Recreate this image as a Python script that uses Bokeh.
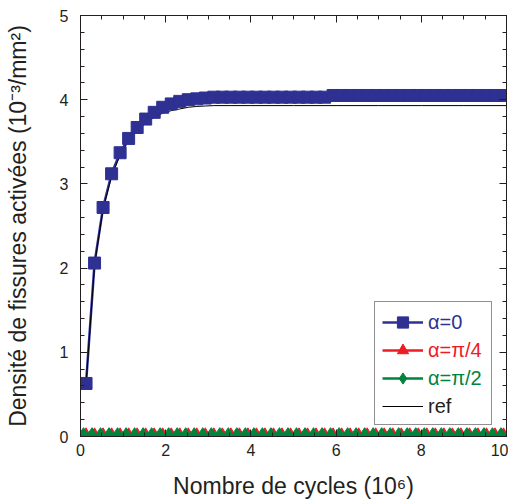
from bokeh.plotting import figure
from bokeh.models import (Legend, LegendItem, LinearAxis, SingleIntervalTicker,
                          Range1d, CustomJSTickFormatter)
from bokeh.embed import file_html
from bokeh.resources import INLINE

# ---- data ----
x_a0 = [0.13, 0.33, 0.53, 0.73, 0.93, 1.13, 1.33, 1.53, 1.73, 1.93,
        2.13, 2.33, 2.53, 2.73, 2.93, 3.13, 3.33, 3.53, 3.73, 3.93,
        4.13, 4.33, 4.53, 4.73, 4.93, 5.13, 5.33, 5.53, 5.73, 5.93,
        6.13, 6.33, 6.53, 6.73, 6.93, 7.13, 7.33, 7.53, 7.73, 7.93,
        8.13, 8.33, 8.53, 8.73, 8.93, 9.13, 9.33, 9.53, 9.73, 9.93]
y_a0 = [0.63, 2.06, 2.72, 3.12, 3.37, 3.54, 3.67, 3.77, 3.85, 3.91,
        3.95, 3.98, 4.00, 4.01, 4.02, 4.03, 4.03, 4.03, 4.03, 4.03,
        4.03, 4.03, 4.03, 4.03, 4.03, 4.03, 4.03, 4.03, 4.03, 4.05,
        4.05, 4.05, 4.05, 4.05, 4.05, 4.05, 4.05, 4.05, 4.05, 4.05,
        4.05, 4.05, 4.05, 4.05, 4.05, 4.05, 4.05, 4.05, 4.05, 4.05]

x_a45 = [0.13, 0.33, 0.53, 0.73, 0.93, 1.13, 1.33, 1.53, 1.73, 1.93,
         2.13, 2.33, 2.53, 2.73, 2.93, 3.13, 3.33, 3.53, 3.73, 3.93,
         4.13, 4.33, 4.53, 4.73, 4.93, 5.13, 5.33, 5.53, 5.73, 5.93,
         6.13, 6.33, 6.53, 6.73, 6.93, 7.13, 7.33, 7.53, 7.73, 7.93,
         8.13, 8.33, 8.53, 8.73, 8.93, 9.13, 9.33, 9.53, 9.73, 9.93]
y_a45 = [0.0, 0.0, 0.0, 0.0, 0.0, 0.0, 0.0, 0.0, 0.0, 0.0,
         0.0, 0.0, 0.0, 0.0, 0.0, 0.0, 0.0, 0.0, 0.0, 0.0,
         0.0, 0.0, 0.0, 0.0, 0.0, 0.0, 0.0, 0.0, 0.0, 0.0,
         0.0, 0.0, 0.0, 0.0, 0.0, 0.0, 0.0, 0.0, 0.0, 0.0,
         0.0, 0.0, 0.0, 0.0, 0.0, 0.0, 0.0, 0.0, 0.0, 0.0]

x_a90 = [0.07, 0.27, 0.47, 0.67, 0.87, 1.07, 1.27, 1.47, 1.67, 1.87,
         2.07, 2.27, 2.47, 2.67, 2.87, 3.07, 3.27, 3.47, 3.67, 3.87,
         4.07, 4.27, 4.47, 4.67, 4.87, 5.07, 5.27, 5.47, 5.67, 5.87,
         6.07, 6.27, 6.47, 6.67, 6.87, 7.07, 7.27, 7.47, 7.67, 7.87,
         8.07, 8.27, 8.47, 8.67, 8.87, 9.07, 9.27, 9.47, 9.67, 9.87]
y_a90 = [0.01, 0.01, 0.01, 0.01, 0.01, 0.01, 0.01, 0.01, 0.01, 0.01,
         0.01, 0.01, 0.01, 0.01, 0.01, 0.01, 0.01, 0.01, 0.01, 0.01,
         0.01, 0.01, 0.01, 0.01, 0.01, 0.01, 0.01, 0.01, 0.01, 0.01,
         0.01, 0.01, 0.01, 0.01, 0.01, 0.01, 0.01, 0.01, 0.01, 0.01,
         0.01, 0.01, 0.01, 0.01, 0.01, 0.01, 0.01, 0.01, 0.01, 0.01]

x_ref = [0.13, 0.33, 0.53, 0.73, 0.93, 1.13, 1.33, 1.53, 1.73, 1.93,
         2.13, 2.33, 2.53, 2.73, 2.93, 3.13, 3.53, 4.0, 5.0, 6.0,
         7.0, 8.0, 9.0, 10.0]
y_ref = [0.62, 2.04, 2.70, 3.09, 3.34, 3.51, 3.63, 3.72, 3.79, 3.84,
         3.87, 3.89, 3.91, 3.92, 3.925, 3.93, 3.93, 3.93, 3.93, 3.93,
         3.93, 3.93, 3.93, 3.93]

labels = ["\u03b1=0", "\u03b1=\u03c0/4", "\u03b1=\u03c0/2", "ref"]
x_ticks_interval = 2
y_ticks_interval = 1

BLUE = "#2E3192"
RED = "#ED1C24"
GREEN = "#00843D"
INK = "#231F20"
FONT = "Liberation Sans"

p = figure(width=508, height=504, x_range=Range1d(0, 10), y_range=Range1d(0, 5),
           output_backend="svg", toolbar_location=None,
           min_border_left=80, min_border_right=2, min_border_top=15,
           min_border_bottom=68)
p.grid.visible = False
p.outline_line_color = INK
p.background_fill_color = "white"
p.border_fill_color = "white"

p.xaxis.ticker = SingleIntervalTicker(interval=x_ticks_interval, num_minor_ticks=4)
p.yaxis.ticker = SingleIntervalTicker(interval=y_ticks_interval, num_minor_ticks=5)

def style_axis(ax):
    ax.axis_line_color = INK
    ax.major_tick_line_color = INK
    ax.minor_tick_line_color = INK
    ax.major_tick_in = 7
    ax.major_tick_out = 0
    ax.minor_tick_in = 4
    ax.minor_tick_out = 0
    ax.major_label_text_font = FONT
    ax.major_label_text_font_size = "16px"
    ax.major_label_text_color = INK
    ax.axis_label_text_font = FONT
    ax.axis_label_text_font_size = "23px"
    ax.axis_label_text_font_style = "normal"
    ax.axis_label_text_color = INK

for ax in p.xaxis + p.yaxis:
    style_axis(ax)

p.xaxis.axis_label = "Nombre de cycles (10\u2076)"
p.yaxis.axis_label = "Densit\u00e9 de fissures activ\u00e9es (10\u207b\u00b3/mm\u00b2)"
p.xaxis.major_label_standoff = 7
p.xaxis.axis_label_standoff = 14
p.yaxis.major_label_standoff = 12
p.yaxis.axis_label_standoff = 26

blank = CustomJSTickFormatter(code="return ''")
top_ax = LinearAxis(ticker=SingleIntervalTicker(interval=x_ticks_interval, num_minor_ticks=4),
                    formatter=blank, major_label_standoff=0)
right_ax = LinearAxis(ticker=SingleIntervalTicker(interval=y_ticks_interval, num_minor_ticks=5),
                      formatter=blank, major_label_standoff=0)
style_axis(top_ax)
style_axis(right_ax)
top_ax.major_label_text_font_size = "1px"
right_ax.major_label_text_font_size = "1px"
p.add_layout(top_ax, "above")
p.add_layout(right_ax, "right")

# ---- series ----
l0 = p.line(x_a0, y_a0, line_color=BLUE, line_width=2.5)
lref = p.line(x_ref, y_ref, line_color="black", line_width=1)
l45 = p.line(x_a45, y_a45, line_color=RED, line_width=2.5)
s45 = p.scatter(x_a45, y_a45, marker="triangle", size=15, fill_color=RED, line_color=RED)
l90 = p.line(x_a90, y_a90, line_color=GREEN, line_width=2.5)
s90 = p.scatter(x_a90, y_a90, marker="diamond", size=16,
                fill_color=GREEN, line_color=GREEN)
s0 = p.scatter(x_a0, y_a0, marker="square", size=12, fill_color=BLUE, line_color=BLUE)

rends = [[l0, s0], [l45, s45], [l90, s90], [lref]]
colors = [BLUE, RED, GREEN, INK]

# legend frame (border only, invisible glyph)
frame_dummy = p.line([], [], line_alpha=0)
LX, LY = 294, 11
BOX_W, BOX_H, ROW, TOPPAD = 116, 122, 28, 5
frame_legend = Legend(items=[LegendItem(label=" ", renderers=[frame_dummy])],
                      location=(LX, LY), padding=0, spacing=0, margin=0,
                      glyph_width=BOX_W - 16, glyph_height=BOX_H,
                      label_standoff=0, label_width=16, label_height=10,
                      label_text_font_size="1px",
                      border_line_color=INK, border_line_width=1,
                      background_fill_color="white", background_fill_alpha=1)
p.add_layout(frame_legend, "center")

for i in range(4):
    lg = Legend(items=[LegendItem(label=labels[i], renderers=rends[i])],
                location=(LX + 8, LY + TOPPAD + (3 - i) * ROW),
                padding=0, spacing=0, margin=0,
                glyph_width=41, glyph_height=ROW, label_height=24,
                label_standoff=5, label_text_font=FONT, label_text_font_size="20px",
                label_text_color=colors[i],
                border_line_alpha=0, background_fill_alpha=0)
    p.add_layout(lg, "center")

open("out.html", "w").write(file_html(p, INLINE))
